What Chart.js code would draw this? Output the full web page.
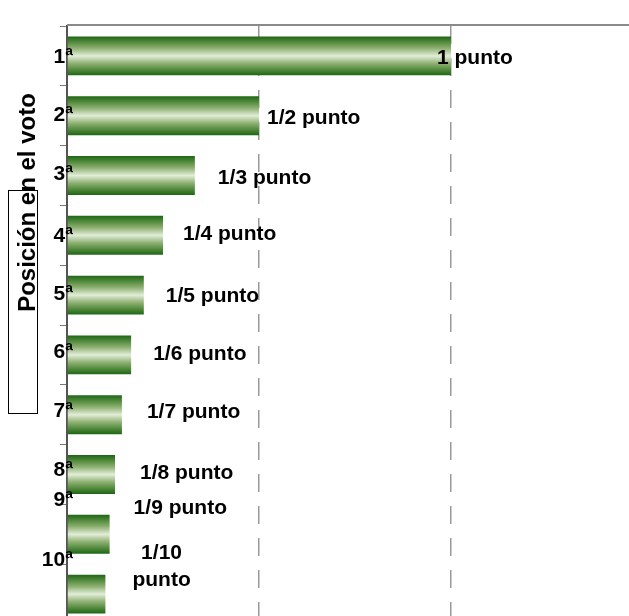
<!DOCTYPE html>
<html><head><meta charset="utf-8">
<script src="https://cdn.jsdelivr.net/npm/chart.js@4"></script>
<style>
html,body{margin:0;padding:0;overflow:hidden;background:#fff;width:629px;height:616px}
#wrap{position:absolute;left:0;top:0;width:660px;height:650px}
</style>
</head><body>
<div id="wrap"><canvas id="c" width="660" height="650"></canvas></div>
<script>
// ---- data ----
const categories = ["1ª","2ª","3ª","4ª","5ª","6ª","7ª","8ª","9ª","10ª"];
const points = [1, 0.5, 0.333, 0.25, 0.2, 0.167, 0.143, 0.125, 0.111, 0.1];
const valueLabels = ["1 punto","1/2 punto","1/3 punto","1/4 punto","1/5 punto","1/6 punto","1/7 punto","1/8 punto","1/9 punto",["1/10","punto"]];
const xTicks = [0, 0.5, 1, 1.5];
const axisTitle = "Posición en el voto";

// ---- label placement styles (offsets relative to each bar) ----
const valueLabelDx = [-14, 8, 23, 20, 22, 22, 25, 25, 24, 27];
const valueLabelDy = [2, 2.5, 3, -1, 1, -1, -2.5, -1, -26.5, -27.5];
const catLabelDy = [1, 0, -1, 1, -1, -3, -3, -4, -34, -34];
const FONT = 'bold 21px "Liberation Sans", Arial, sans-serif';
const BAR_PCT = 0.65;

function barFill(ctx) {
  const chart = ctx.chart;
  const ys = chart.scales && chart.scales.y;
  if (!chart.chartArea || !ys || ctx.dataIndex === undefined) return '#6e9a4e';
  const c = ys.getPixelForValue(ctx.dataIndex);
  const half = BAR_PCT * (ys.height / categories.length) / 2;
  const g = chart.ctx.createLinearGradient(0, c - half, 0, c + half);
  g.addColorStop(0, '#1d6616');
  g.addColorStop(0.1, '#427f2f');
  g.addColorStop(0.3, '#8caf70');
  g.addColorStop(0.5, '#e2edd8');
  g.addColorStop(0.7, '#8caf70');
  g.addColorStop(0.9, '#427f2f');
  g.addColorStop(1, '#1d6616');
  return g;
}

const decor = {
  id: 'decor',
  beforeDatasetsDraw(chart) {
    const {ctx, chartArea} = chart;
    ctx.save();
    ctx.strokeStyle = '#8a8a8a';
    ctx.lineWidth = 2;
    ctx.beginPath();
    ctx.moveTo(chartArea.left, chartArea.top - 1);
    ctx.lineTo(chart.width, chartArea.top - 1);
    ctx.stroke();
    ctx.restore();
  },
  afterDatasetsDraw(chart) {
    const {ctx} = chart;
    const meta = chart.getDatasetMeta(0);
    const ys = chart.scales.y;
    ctx.save();
    ctx.font = FONT;
    ctx.fillStyle = '#000';
    ctx.textBaseline = 'middle';
    // category labels
    ctx.textAlign = 'right';
    categories.forEach((c, i) => {
      ctx.fillText(c, ys.right + 6, ys.getPixelForValue(i) + catLabelDy[i]);
    });
    // value labels
    meta.data.forEach((bar, i) => {
      const lab = valueLabels[i];
      const x0 = bar.x + valueLabelDx[i];
      const yc = bar.y + valueLabelDy[i];
      if (Array.isArray(lab)) {
        const lh = 27;
        const w = Math.max(...lab.map(s => ctx.measureText(s).width));
        ctx.textAlign = 'center';
        lab.forEach((s, k) => {
          ctx.fillText(s, x0 + w / 2, yc + (k - (lab.length - 1) / 2) * lh);
        });
      } else {
        ctx.textAlign = 'left';
        ctx.fillText(lab, x0, yc);
      }
    });
    ctx.restore();
  },
  afterDraw(chart) {
    const {ctx} = chart;
    ctx.save();
    ctx.strokeStyle = '#000';
    ctx.lineWidth = 1;
    ctx.strokeRect(8.5, 190.5, 29, 223);
    ctx.translate(35, 202.5);
    ctx.rotate(-Math.PI / 2);
    ctx.font = 'bold 24px "Liberation Sans", Arial, sans-serif';
    ctx.fillStyle = '#000';
    ctx.textAlign = 'center';
    ctx.textBaseline = 'alphabetic';
    ctx.fillText(axisTitle, 0, 0);
    ctx.restore();
  }
};

new Chart(document.getElementById('c'), {
  type: 'bar',
  data: {
    labels: categories,
    datasets: [{
      data: points,
      backgroundColor: barFill,
      borderWidth: 0,
      categoryPercentage: 1,
      barPercentage: BAR_PCT
    }]
  },
  options: {
    indexAxis: 'y',
    responsive: false,
    animation: false,
    devicePixelRatio: 1,
    layout: {padding: {top: 26, right: 17, bottom: 26, left: 0}},
    plugins: {legend: {display: false}, tooltip: {enabled: false}},
    scales: {
      x: {
        type: 'linear', min: 0, max: 1.5,
        afterBuildTicks: s => { s.ticks = xTicks.map(v => ({value: v})); },
        afterFit: s => { s.height = 0; },
        ticks: {display: false},
        grid: {
          drawTicks: false,
          lineWidth: 1.5,
          color: c => (c.tick && c.tick.value > 0) ? '#9a9a9a' : 'rgba(0,0,0,0)'
        },
        border: {display: false, dash: [18, 14]}
      },
      y: {
        type: 'category',
        offset: true,
        afterFit: s => { s.width = 67; },
        ticks: {display: false},
        grid: {drawOnChartArea: false, drawTicks: true, tickLength: 7, color: '#777', offset: true},
        border: {display: true, color: '#555', width: 2}
      }
    }
  },
  plugins: [decor]
});
</script>
</body></html>
